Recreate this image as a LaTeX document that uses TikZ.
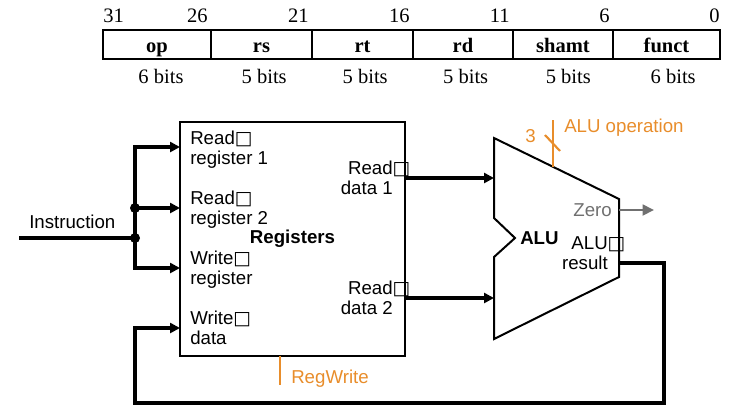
\documentclass[tikz,border=0pt]{standalone}
\usepackage{fontspec}
\setmainfont{Liberation Serif}
\setsansfont{Liberation Sans}
\newfontfamily\symfont{DejaVu Sans}
\usetikzlibrary{arrows.meta, positioning}
\usepackage{xcolor}

\definecolor{ctrl}{RGB}{232,141,43}
\definecolor{flag}{RGB}{112,112,112}
\newcommand{\gapbox}{{\symfont\char"25A1}}

\begin{document}
\begin{tikzpicture}[
x=0.75pt, y=-0.75pt,
field/.style={draw, line width=1.8pt, outer sep=0pt, inner sep=0pt,
minimum height=21.75pt, text height=12pt, text depth=0.75pt,
font=\fontsize{15.4}{16}\selectfont\bfseries},
bitno/.style={inner sep=0pt, font=\fontsize{15.4}{16}\selectfont},
port/.style={inner sep=0pt, font=\sffamily\fontsize{14}{14.5}\selectfont},
dot/.style={circle, fill, inner sep=0pt, minimum size=7.5pt},
wire/.style={line width=2.3pt},
arrow/.style={wire, -{Triangle[length=7.5pt, width=7.5pt]}},
ctrlwire/.style={draw=ctrl, line width=2.2pt}
]
\useasboundingbox (0,0) rectangle (732,405);

% instruction format
\node[field, minimum width=81pt, anchor=north west] (op) at (103,30) {op};
\node[field, minimum width=75.75pt, right=0pt of op] (rs) {rs};
\node[field, minimum width=75.75pt, right=0pt of rs] (rt) {rt};
\node[field, minimum width=75pt, right=0pt of rt] (rd) {rd};
\node[field, minimum width=75pt, right=0pt of rd] (shamt) {shamt};
\node[field, minimum width=80.25pt, right=0pt of shamt] (funct) {funct};

\coordinate (numrow) at (0,22);
\coordinate (bitsrow) at (0,83);
\node[bitno, anchor=base west] (b31) at (op.north west |- numrow) {31};
\node[bitno, anchor=base east, xshift=-2.25pt] (b26) at (op.north east |- numrow) {26};
\node[bitno, anchor=base east, xshift=-2.25pt] (b21) at (rs.north east |- numrow) {21};
\node[bitno, anchor=base east, xshift=-2.25pt] (b16) at (rt.north east |- numrow) {16};
\node[bitno, anchor=base east, xshift=-2.25pt] (b11) at (rd.north east |- numrow) {11};
\node[bitno, anchor=base east, xshift=-2.25pt] (b6) at (shamt.north east |- numrow) {6};
\node[bitno, anchor=base east] (b0) at (funct.north east |- numrow) {0};

\node[bitno, anchor=base, xshift=3pt] (opw) at (op |- bitsrow) {6 bits};
\node[bitno, anchor=base, xshift=2pt] (rsw) at (rs |- bitsrow) {5 bits};
\node[bitno, anchor=base, xshift=2pt] (rtw) at (rt |- bitsrow) {5 bits};
\node[bitno, anchor=base, xshift=2pt] (rdw) at (rd |- bitsrow) {5 bits};
\node[bitno, anchor=base, xshift=4pt] (shamtw) at (shamt |- bitsrow) {5 bits};
\node[bitno, anchor=base, xshift=5pt] (functw) at (funct |- bitsrow) {6 bits};

% register file
\node[draw, line width=1.5pt, outer sep=0pt, inner sep=0pt,
minimum width=168.75pt, minimum height=175.5pt, anchor=north west,
font=\sffamily\bfseries\fontsize{14}{14.5}\selectfont] (regs) at (180,122) {Registers};

\coordinate (rr1) at (180,147);
\coordinate (rr2) at (180,208);
\coordinate (wr) at (180,268);
\coordinate (wd) at (180,328);

% base = baseline of the last line
\node[port, anchor=base west, align=left] (rr1lbl) at (190,164) {Read\gapbox\\register 1};
\node[port, anchor=base west, align=left] (rr2lbl) at (190,224) {Read\gapbox\\register 2};
\node[port, anchor=base west, align=left] (wrlbl) at (190,284) {Write\gapbox\\register};
\node[port, anchor=base west, align=left] (wdlbl) at (190,344) {Write\gapbox\\data};
\node[port, anchor=base east, align=right] (rd1lbl) at (393,194) {Read\rlap{\gapbox}\\data 1};
\node[port, anchor=base east, align=right] (rd2lbl) at (393,314) {Read\rlap{\gapbox}\\data 2};

% ALU
\coordinate (alu-tl) at (494,138);
\coordinate (alu-tr) at (619,199);
\coordinate (alu-br) at (619,277);
\coordinate (alu-bl) at (494,339);
\coordinate (notch-a) at (494,218);
\coordinate (notch-b) at (515,238);
\coordinate (notch-c) at (494,257);
\draw[line width=1.5pt, line join=miter] (alu-tl) -- (alu-tr) -- (alu-br) -- (alu-bl)
-- (notch-c) -- (notch-b) -- (notch-a) -- cycle;

\coordinate (in1) at (494,178);
\coordinate (in2) at (494,298);
\coordinate (res) at (619,263);
\coordinate (zout) at (619,210);
\coordinate (zend) at (654,210);

\node[port, anchor=base west, font=\sffamily\bfseries\fontsize{14}{14.5}\selectfont] (alulbl) at (520,244) {ALU};
\node[port, anchor=base east, text=flag] (zerolbl) at (612,216) {Zero};
\node[port, anchor=base east, align=right] (reslbl) at (608,269) {ALU\rlap{\gapbox}\\result};

% datapath wires
\node[port, anchor=base west] (instr) at (29,228) {Instruction};
\coordinate (instrin) at (19,238);
\coordinate (split) at (135,238);
\draw[wire] (instrin) -- (split);
\draw[arrow] (split) |- (rr1);
\draw[arrow] (split) |- (wr);
\draw[arrow] (split |- rr2) -- (rr2);
\node[dot] (j1) at (split) {};
\node[dot] (j2) at (split |- rr2) {};

\draw[arrow] (regs.east |- in1) -- (in1);
\draw[arrow] (regs.east |- in2) -- (in2);

\coordinate (loop-r) at (664,403);
\coordinate (loop-l) at (135,403);
\draw[arrow, line join=miter] (res) -| (loop-r) -- (loop-l) |- (wd);

\draw[draw=flag, line width=2pt, -{Triangle[length=8.5pt, width=8pt]}] (zout) -- (zend);

% control lines
\coordinate (rw) at (280,385);
\draw[ctrlwire] (rw |- regs.south) -- (rw);
\node[port, anchor=base west, text=ctrl] (rwlbl) at (291,383) {RegWrite};

\coordinate (aluop) at (553,120);
\coordinate (opin) at (553,166.5);
\draw[ctrlwire] (aluop) -- (opin);
\draw[ctrlwire, line width=1.6pt] (aluop) ++(-8,15) -- ++(15,16);
\node[port, anchor=base west, text=ctrl] (opwidth) at (525,142) {3};
\node[port, anchor=base west, text=ctrl] (oplbl) at (564,132) {ALU operation};

\end{tikzpicture}
\end{document}
